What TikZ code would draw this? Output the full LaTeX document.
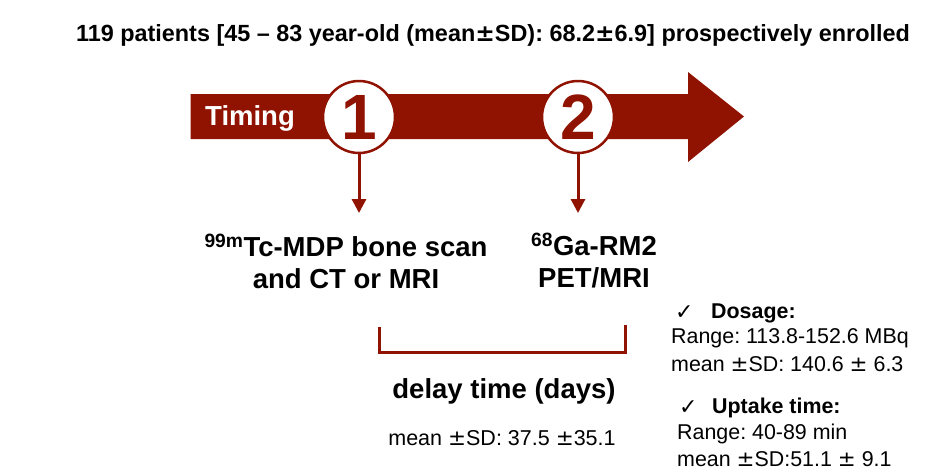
\documentclass[tikz,border=0pt]{standalone}
\usepackage{fontspec}
\setmainfont{Liberation Sans}
\newfontfamily\symfont{DejaVu Sans}
\usetikzlibrary{arrows.meta}
\definecolor{dred}{RGB}{144,18,0}
\frenchspacing
\begin{document}
\begin{tikzpicture}[x=1pt,y=-1pt,
  numcirc/.style={circle,draw=dred,fill=white,line width=2.5pt,minimum size=72pt,inner sep=0pt,text=dred,font=\fontsize{64}{64}\selectfont\bfseries},
  conn/.style={draw=dred,line width=3pt,-{Triangle[length=14pt,width=14pt]}},
  bracketline/.style={draw=dred,line width=3pt},
  bigtxt/.style={font=\fontsize{27.5}{32}\selectfont\bfseries,align=center,inner sep=0pt},
  smalltxt/.style={font=\fontsize{21.4}{26}\selectfont,align=left,inner sep=0pt,anchor=west},
  chk/.style={font=\symfont\fontsize{22}{22}\selectfont,inner sep=0pt,anchor=west},
]
\useasboundingbox (0,0) rectangle (934,472);
% title
\node[inner sep=0pt,font=\fontsize{23.4}{26}\selectfont\bfseries] (title) at (493,35)
  {119 patients [45 -- 83 year-old (mean{\symfont ±}SD): 68.2{\symfont ±}6.9] prospectively enrolled};
% arrow
\fill[dred] (190.7,94) -- (688,94) -- (688,72) -- (744,116.5) -- (688,162) -- (688,139) -- (190.7,139) -- cycle;
\node[inner sep=0pt,text=white,font=\fontsize{27.5}{27}\selectfont\bfseries,anchor=west] (timing) at (205,118) {Timing};
\node[numcirc] (c1) at (359,117) {1};
\node[numcirc] (c2) at (578,117) {2};
\coordinate (t1) at (359,213);
\coordinate (t2) at (578,213);
\draw[conn] (c1.south) -- (t1);
\draw[conn] (c2.south) -- (t2);
% labels
\node[bigtxt] (scan) at (346,261) {\textsuperscript{99m}Tc-MDP bone scan\\and CT or MRI};
\node[bigtxt] (pet) at (594,261) {\textsuperscript{68}Ga-RM2\\PET/MRI};
% bracket
\coordinate (bl) at (379,327);
\coordinate (br) at (625,325);
\draw[bracketline] (bl) |- (br |- 0,352) -- (br);
\node[inner sep=0pt,font=\fontsize{27.5}{28}\selectfont\bfseries] (delay) at (504,391) {delay time (days)};
\node[inner sep=0pt,font=\fontsize{21.5}{22}\selectfont] (delaystat) at (502,438) {mean {\symfont ±}SD: 37.5 {\symfont ±}35.1};
% right block
\node[chk] (chk1) at (675,313) {✓};
\node[smalltxt] (dos) at (711,313) {\textbf{Dosage:}};
\node[smalltxt] (dosr) at (671,338) {Range: 113.8-152.6 MBq};
\node[smalltxt] (doss) at (671,364) {mean {\symfont ±}SD: 140.6 {\symfont ±} 6.3};
\node[chk] (chk2) at (679,408) {✓};
\node[smalltxt] (upt) at (712,408) {\textbf{Uptake time:}};
\node[smalltxt] (uptr) at (677,434) {Range: 40-89 min};
\node[smalltxt] (upts) at (677,459) {mean {\symfont ±}SD:51.1 {\symfont ±} 9.1};
\end{tikzpicture}
\end{document}
